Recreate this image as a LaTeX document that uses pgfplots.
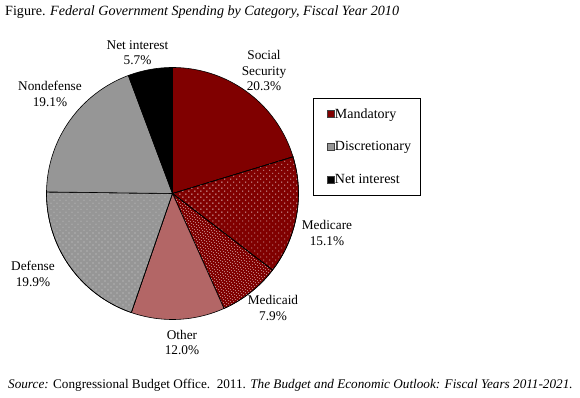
\documentclass[border=0pt]{standalone}
\usepackage{fontspec}
\setmainfont{Liberation Serif}
\usepackage{pgfplots}
\pgfplotsset{compat=1.18}
\usetikzlibrary{patterns.meta}
\definecolor{mred}{RGB}{128,0,0}
\definecolor{dgray}{RGB}{150,150,150}
\newcommand{\lbl}{\fontsize{13.3bp}{15.5bp}\selectfont}
\newcommand{\legtxt}[1]{\makebox[70bp][l]{#1}}
\def\cum{0}
\newcommand{\slice}[2]{%
  \pgfmathsetmacro\sA{90-3.6*\cum}%
  \pgfmathsetmacro\sB{90-3.6*(\cum+#1)}%
  \pgfmathsetmacro\newcum{\cum+#1}\xdef\cum{\newcum}%
  \addplot[#2, forget plot, draw=black, line width=0.6bp, domain=\sB:\sA, samples=90, variable=\t]
    ({172.5+126*cos(\t)},{204.5+126*sin(\t)}) -- (axis cs:172.5,204.5) -- cycle;
}
\begin{document}
\begin{tikzpicture}
\begin{axis}[
  scale only axis, width=580bp, height=398bp,
  xmin=0, xmax=580, ymin=0, ymax=398,
  hide axis, clip=false,
  legend style={at={(axis cs:313,300)}, anchor=north west, draw=black, line width=0.6bp,
    font=\fontsize{14bp}{16bp}\selectfont, inner xsep=13.5bp, inner ysep=8bp, row sep=18bp, cells={anchor=west}},
  legend cell align=left,
  legend image code/.code={\useasboundingbox (0bp,-3.5bp) rectangle (5.5bp,3.5bp);
    \draw[#1, draw=black!75, line width=0.5bp] (0bp,-3.5bp) rectangle (7bp,3.5bp);},
]
% Percent shares of spending, clockwise from 12 o'clock
\slice{20.3}{fill=mred}
\slice{15.1}{fill=mred, postaction={pattern={Dots[distance=4.24bp, angle=45, radius=0.55bp]}, pattern color=white}}
\slice{7.9}{fill=mred, postaction={pattern={Dots[distance=2.83bp, angle=45, radius=0.55bp]}, pattern color=white}}
\slice{12.0}{fill=mred!60!white}
\slice{19.9}{fill=dgray, postaction={pattern={Dots[distance=4.24bp, angle=45, radius=0.5bp]}, pattern color=white}}
\slice{19.1}{fill=dgray}
\slice{5.7}{fill=black}

\addlegendimage{fill=mred}
\addlegendentry{\legtxt{Mandatory}}
\addlegendimage{fill=dgray}
\addlegendentry{\legtxt{Discretionary}}
\addlegendimage{fill=black}
\addlegendentry{\legtxt{Net interest}}

\node[align=center, font=\lbl] at (axis cs:264,327.5) {Social\\Security\\20.3\%};
\node[align=center, font=\lbl] at (axis cs:327,165) {Medicare\\15.1\%};
\node[align=center, font=\lbl] at (axis cs:273,90) {Medicaid\\7.9\%};
\node[align=center, font=\lbl] at (axis cs:182,55.5) {Other\\12.0\%};
\node[align=center, font=\lbl] at (axis cs:33,124) {Defense\\19.9\%};
\node[align=center, font=\lbl] at (axis cs:50,304) {Nondefense\\19.1\%};
\node[align=center, font=\lbl] at (axis cs:137.5,345.5) {Net interest\\5.7\%};

\node[anchor=west, font=\fontsize{14.1bp}{16bp}\selectfont, inner sep=0pt] at (axis cs:5,386) {Figure. \textit{Federal Government Spending by Category, Fiscal Year 2010}};
\node[anchor=west, font=\fontsize{13.2bp}{15.5bp}\selectfont, inner sep=0pt] at (axis cs:8,13) {\textit{Source:} Congressional Budget Office.\ \ 2011. \textit{The Budget and Economic Outlook: Fiscal Years 2011-2021.}};
\end{axis}
\pgfresetboundingbox
\path (0,0) rectangle (580bp,398bp);
\end{tikzpicture}
\end{document}
